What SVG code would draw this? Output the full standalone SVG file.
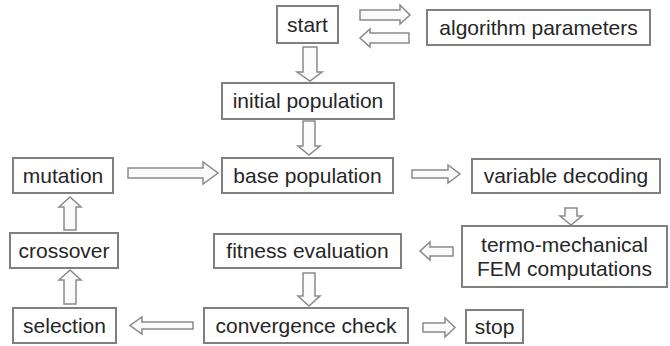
<svg xmlns="http://www.w3.org/2000/svg" width="670" height="346" viewBox="0 0 670 346">
<style>
.box{fill:#ffffff;stroke:#808080;stroke-width:2}
.t{font-family:"Liberation Sans",Arial,sans-serif;font-size:21px;fill:#262626;text-anchor:middle}
.ar{fill:#fbfbfb;stroke:#8a8a8a;stroke-width:1.5;stroke-linejoin:miter}
</style>
<rect width="670" height="346" fill="#ffffff"/>
<g id="connectors">
<polygon class="ar" points="360,10 400,10 400,5 410,15 400,24 400,20 360,20"/>
<polygon class="ar" points="409,33 370,33 370,29 360,38 370,47 370,43 409,43"/>
<polygon class="ar" points="303,47 317,47 317,72 322,72 310,81 297,72 303,72"/>
<polygon class="ar" points="303,121 315,121 315,146 320,146 309,155 298,146 303,146"/>
<polygon class="ar" points="128,168 203,168 203,162 218,173 203,184 203,178 128,178"/>
<polygon class="ar" points="412,170 448,170 448,165 460,174 448,183 448,178 412,178"/>
<polygon class="ar" points="565,208 577,208 577,216 582,216 571,225 560,216 565,216"/>
<polygon class="ar" points="453,247 430,247 430,242 420,251 430,260 430,256 453,256"/>
<polygon class="ar" points="303,273 315,273 315,296 320,296 309,306 298,296 303,296"/>
<polygon class="ar" points="193,322 142,322 142,317 130,325.5 142,334 142,329 193,329"/>
<polygon class="ar" points="423,323 445,323 445,318 455,327.5 445,337 445,332 423,332"/>
<polygon class="ar" points="64,304 76,304 76,280 81,280 70,270 59,280 64,280"/>
<polygon class="ar" points="64,230 76,230 76,207 81,207 70,197 59,207 64,207"/>
</g>
<g id="start"><rect class="box" x="277" y="6" width="61" height="37"/><text class="t" x="307.5" y="32">start</text></g>
<g id="algorithm-parameters"><rect class="box" x="427" y="10" width="223" height="35"/><text class="t" x="538.5" y="35">algorithm parameters</text></g>
<g id="initial-population"><rect class="box" x="222" y="83" width="172" height="36"/><text class="t" x="308" y="108">initial population</text></g>
<g id="mutation"><rect class="box" x="13" y="158" width="100" height="35"/><text class="t" x="63" y="183">mutation</text></g>
<g id="base-population"><rect class="box" x="222" y="158" width="171" height="35"/><text class="t" x="307.5" y="183">base population</text></g>
<g id="variable-decoding"><rect class="box" x="472" y="159" width="188" height="34"/><text class="t" x="566" y="183">variable decoding</text></g>
<g id="fem"><rect class="box" x="462" y="226" width="205" height="61"/><text class="t" x="564.5" y="252">termo-mechanical</text><text class="t" x="564.5" y="276">FEM computations</text></g>
<g id="crossover"><rect class="box" x="10" y="233" width="108" height="35"/><text class="t" x="64" y="258">crossover</text></g>
<g id="fitness-evaluation"><rect class="box" x="214" y="234" width="187" height="34"/><text class="t" x="307.5" y="258">fitness evaluation</text></g>
<g id="selection"><rect class="box" x="13" y="308" width="103" height="35"/><text class="t" x="64.5" y="333">selection</text></g>
<g id="convergence-check"><rect class="box" x="204" y="308" width="204" height="35"/><text class="t" x="306" y="333">convergence check</text></g>
<g id="stop"><rect class="box" x="466" y="310" width="57" height="33"/><text class="t" x="494.5" y="334">stop</text></g>
</svg>
